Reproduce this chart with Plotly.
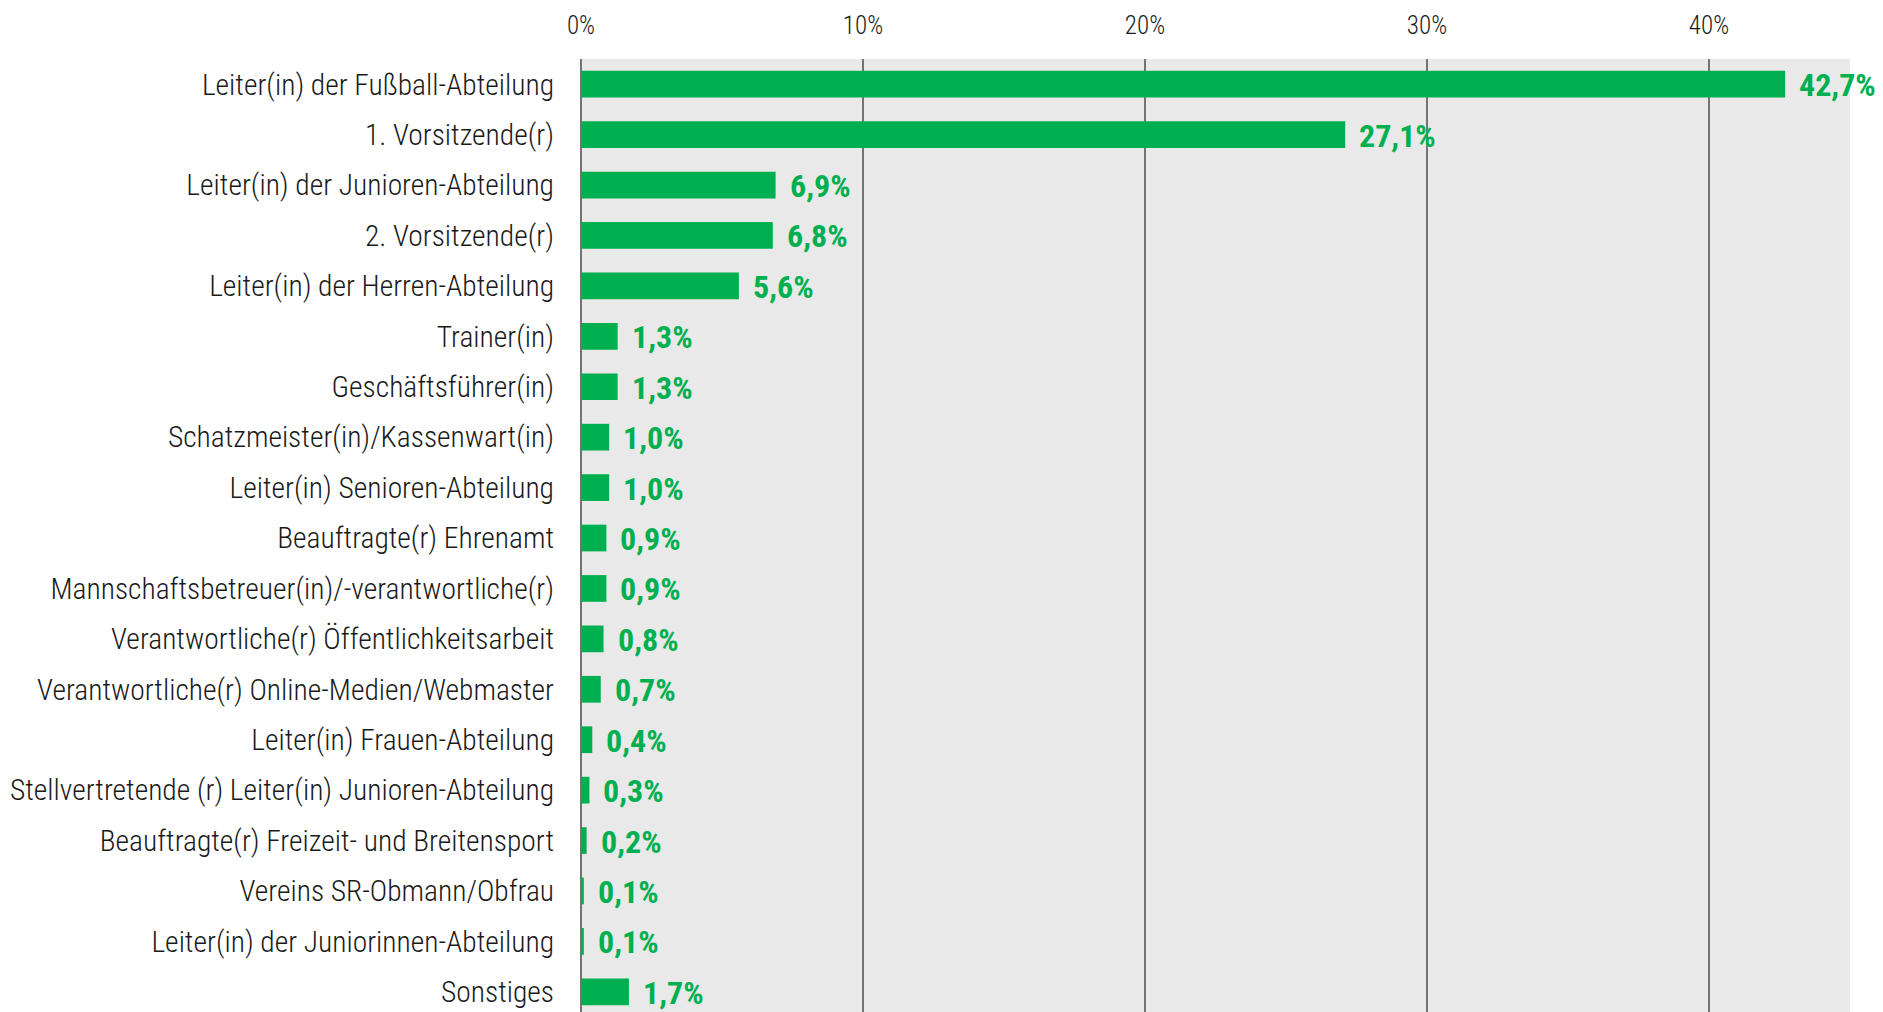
import plotly.graph_objects as go

# Funktionen der befragten Personen im Verein (Anteil in %)
categories = [
    "Leiter(in) der Fußball-Abteilung",
    "1. Vorsitzende(r)",
    "Leiter(in) der Junioren-Abteilung",
    "2. Vorsitzende(r)",
    "Leiter(in) der Herren-Abteilung",
    "Trainer(in)",
    "Geschäftsführer(in)",
    "Schatzmeister(in)/Kassenwart(in)",
    "Leiter(in) Senioren-Abteilung",
    "Beauftragte(r) Ehrenamt",
    "Mannschaftsbetreuer(in)/-verantwortliche(r)",
    "Verantwortliche(r) Öffentlichkeitsarbeit",
    "Verantwortliche(r) Online-Medien/Webmaster",
    "Leiter(in) Frauen-Abteilung",
    "Stellvertretende (r) Leiter(in) Junioren-Abteilung",
    "Beauftragte(r) Freizeit- und Breitensport",
    "Vereins SR-Obmann/Obfrau",
    "Leiter(in) der Juniorinnen-Abteilung",
    "Sonstiges",
]
values = [42.7, 27.1, 6.9, 6.8, 5.6, 1.3, 1.3, 1.0, 1.0, 0.9, 0.9, 0.8, 0.7, 0.4, 0.3, 0.2, 0.1, 0.1, 1.7]
tick_values = [0, 10, 20, 30, 40]
tick_labels = ["0%", "10%", "20%", "30%", "40%"]

GREEN = "#00b050"
FONT = "Roboto Condensed, Roboto, sans-serif"

fig = go.Figure(
    go.Bar(
        x=values,
        y=categories,
        orientation="h",
        marker=dict(color=GREEN, line=dict(width=0)),
        width=0.53,
        hoverinfo="skip",
    )
)

# Wertbeschriftungen rechts neben den Balken
for cat, v in zip(categories, values):
    fig.add_annotation(
        x=v,
        y=cat,
        text=f"{v:.1f}%".replace(".", ","),
        showarrow=False,
        xanchor="left",
        yanchor="middle",
        xshift=12,
        yshift=-1,
        font=dict(family=FONT, size=32, color=GREEN, weight="bold"),
    )

fig.update_layout(
    width=1883,
    height=1012,
    margin=dict(l=581, r=33, t=59, b=0),
    paper_bgcolor="white",
    plot_bgcolor="#e9e9e9",
    showlegend=False,
    bargap=0.47,
    font=dict(family=FONT, color="#1a1a1a"),
)

fig.update_xaxes(
    side="top",
    range=[0, 45],
    tickvals=tick_values,
    ticktext=tick_labels,
    tickfont=dict(family=FONT, size=25, color="#1a1a1a", weight=300),
    showgrid=True,
    gridcolor="#737373",
    gridwidth=2,
    zeroline=True,
    zerolinecolor="#737373",
    zerolinewidth=2,
    showline=False,
    ticks="",
    ticklabelstandoff=19,
    fixedrange=True,
)

fig.update_yaxes(
    categoryorder="array",
    categoryarray=categories,
    range=[18.4, -0.5],
    tickfont=dict(family=FONT, size=29.5, color="#1a1a1a", weight=300),
    showgrid=False,
    zeroline=False,
    showline=False,
    ticks="",
    ticklabelstandoff=26,
    fixedrange=True,
)

fig.write_html("out.html")
